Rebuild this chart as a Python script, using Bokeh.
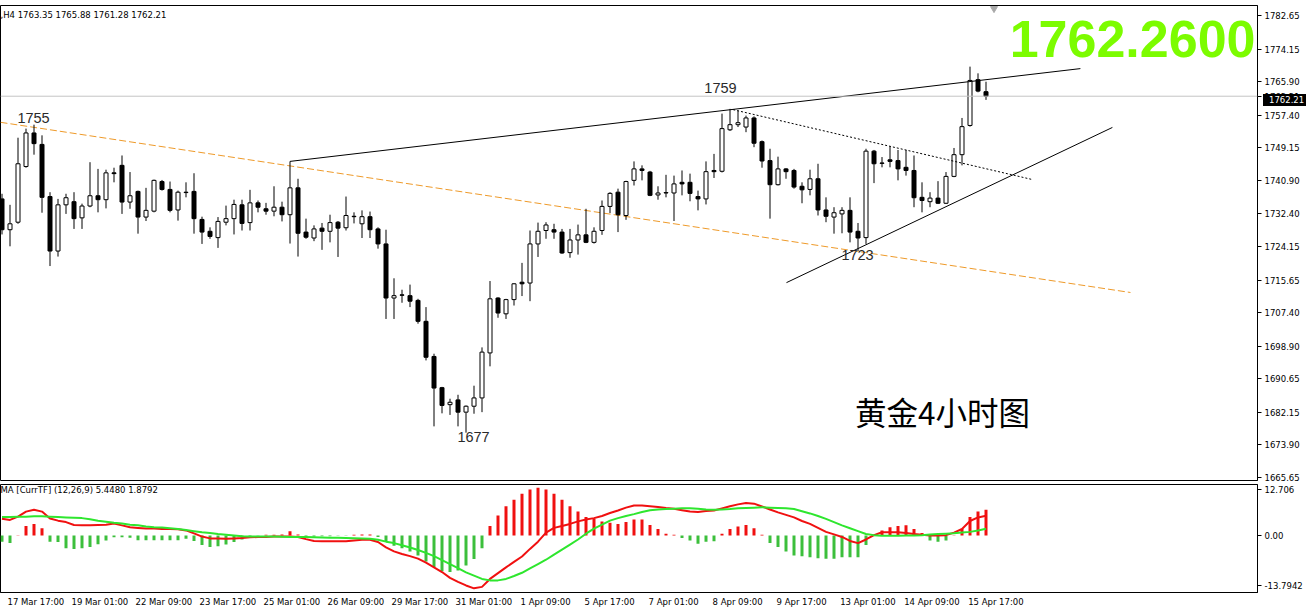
from bokeh.plotting import figure
from bokeh.models import (ColumnDataSource, Range1d, FixedTicker, Label, Span, Div,
                          PrintfTickFormatter, CustomJSTickFormatter)
from bokeh.layouts import column
from bokeh.embed import file_html
from bokeh.resources import INLINE

# ---------------- data ----------------
opens = [1736.2, 1728.4, 1730.3, 1744.4, 1752.9, 1750.0, 1736.8, 1723.0, 1734.7, 1735.5,
         1731.4, 1734.4, 1737.0, 1736.0, 1742.8, 1744.7, 1735.4, 1738.1, 1731.6, 1733.1,
         1740.6, 1738.6, 1733.4, 1737.9, 1738.1, 1731.0, 1728.0, 1726.4, 1730.3, 1731.2,
         1734.7, 1730.2, 1735.2, 1733.7, 1733.1, 1734.1, 1732.2, 1739.0, 1727.8, 1726.3,
         1728.8, 1728.0, 1730.3, 1728.9, 1731.8, 1729.9, 1731.7, 1728.6, 1724.8, 1711.1,
         1711.9, 1711.7, 1710.5, 1705.2, 1696.3, 1688.4, 1684.1, 1685.3, 1682.2, 1683.7,
         1685.8, 1697.2, 1711.1, 1707.1, 1710.7, 1715.1, 1714.9, 1724.8, 1728.2, 1728.4,
         1727.8, 1722.6, 1725.8, 1727.1, 1725.2, 1728.2, 1734.3, 1737.9, 1732.0, 1740.9,
         1743.8, 1743.0, 1737.2, 1737.7, 1737.7, 1740.4, 1740.4, 1736.8, 1736.2, 1743.4,
         1743.2, 1753.7, 1755.0, 1754.4, 1756.7, 1750.7, 1745.9, 1739.8, 1743.8, 1743.4,
         1739.4, 1738.6, 1741.3, 1733.4, 1731.6, 1732.4, 1733.3, 1728.0, 1726.4, 1748.3,
         1745.3, 1746.1, 1745.9, 1744.2, 1743.4, 1736.6, 1735.5, 1736.4, 1735.1, 1741.9,
         1747.4, 1754.8, 1766.4, 1763.35]
highs = [1737.5, 1734.7, 1751.7, 1754.0, 1755.0, 1752.3, 1737.9, 1736.2, 1737.5, 1737.9,
         1735.0, 1745.5, 1743.8, 1743.6, 1744.1, 1747.2, 1743.0, 1738.3, 1739.0, 1741.1,
         1741.0, 1740.6, 1738.3, 1740.4, 1742.7, 1731.7, 1729.0, 1731.6, 1734.5, 1736.0,
         1736.0, 1738.5, 1735.8, 1735.2, 1739.4, 1735.5, 1745.7, 1741.3, 1731.2, 1729.5,
         1730.1, 1732.2, 1730.6, 1736.8, 1732.8, 1733.3, 1733.0, 1729.0, 1728.4, 1716.1,
         1713.2, 1714.5, 1710.9, 1708.8, 1697.0, 1688.6, 1685.6, 1686.6, 1683.9, 1688.9,
         1698.6, 1715.4, 1711.3, 1710.9, 1714.9, 1720.0, 1728.2, 1730.2, 1730.3, 1729.9,
         1728.6, 1728.6, 1729.7, 1733.7, 1729.0, 1735.8, 1737.9, 1738.8, 1740.8, 1745.7,
         1744.7, 1743.3, 1739.4, 1742.3, 1742.1, 1743.4, 1742.6, 1738.3, 1745.7, 1747.6,
         1757.8, 1759.0, 1758.6, 1757.3, 1757.1, 1751.0, 1748.9, 1746.9, 1744.0, 1743.8,
         1740.4, 1743.6, 1745.1, 1736.6, 1734.1, 1734.1, 1736.6, 1730.1, 1748.9, 1748.6,
         1746.8, 1749.5, 1748.6, 1748.6, 1747.2, 1740.4, 1737.9, 1740.7, 1743.0, 1749.1,
         1756.7, 1769.7, 1768.0, 1765.88]
lows = [1727.2, 1724.2, 1729.9, 1744.1, 1747.4, 1732.7, 1719.2, 1721.6, 1732.4, 1728.6,
        1728.6, 1734.1, 1732.8, 1733.8, 1740.4, 1732.4, 1733.7, 1727.4, 1730.6, 1732.8,
        1738.3, 1732.8, 1730.7, 1736.6, 1727.4, 1724.8, 1726.1, 1723.8, 1729.5, 1727.2,
        1728.2, 1728.2, 1732.8, 1732.2, 1731.8, 1730.5, 1724.9, 1721.6, 1726.1, 1725.5,
        1723.3, 1725.2, 1721.5, 1728.2, 1730.0, 1726.3, 1726.3, 1723.6, 1705.8, 1705.8,
        1709.9, 1708.8, 1704.6, 1695.3, 1678.6, 1681.9, 1681.5, 1678.6, 1677.0, 1681.8,
        1682.2, 1693.8, 1706.1, 1705.8, 1709.2, 1711.6, 1710.3, 1721.5, 1726.1, 1726.1,
        1722.3, 1721.3, 1722.1, 1725.0, 1724.9, 1727.1, 1732.6, 1727.8, 1730.9, 1739.6,
        1740.9, 1736.9, 1736.0, 1736.6, 1730.6, 1737.1, 1735.6, 1733.3, 1734.8, 1741.5,
        1742.9, 1753.4, 1754.4, 1753.1, 1749.3, 1744.1, 1731.2, 1739.6, 1741.3, 1738.8,
        1735.1, 1737.1, 1732.0, 1730.3, 1727.4, 1727.5, 1725.2, 1723.0, 1724.8, 1740.2,
        1744.2, 1744.2, 1740.9, 1742.1, 1734.1, 1732.8, 1734.1, 1734.9, 1734.9, 1741.7,
        1744.7, 1754.5, 1763.2, 1761.28]
closes = [1728.4, 1729.9, 1745.1, 1752.9, 1750.2, 1736.6, 1723.0, 1734.7, 1736.5, 1731.2,
          1734.4, 1737.0, 1736.0, 1742.8, 1742.6, 1735.4, 1737.0, 1731.6, 1733.3, 1740.9,
          1738.6, 1733.3, 1737.9, 1737.8, 1731.2, 1727.8, 1726.7, 1730.5, 1731.2, 1734.8,
          1730.0, 1735.2, 1734.1, 1733.1, 1734.1, 1732.2, 1739.0, 1727.5, 1726.5, 1728.6,
          1728.0, 1730.2, 1728.8, 1732.0, 1731.7, 1731.7, 1728.4, 1724.8, 1711.1, 1711.7,
          1711.8, 1710.3, 1705.2, 1696.1, 1688.3, 1683.9, 1684.7, 1682.2, 1683.7, 1685.8,
          1697.4, 1710.9, 1707.3, 1710.7, 1714.7, 1714.7, 1724.8, 1728.0, 1729.6, 1727.8,
          1722.5, 1725.8, 1727.1, 1725.2, 1728.0, 1734.3, 1737.6, 1732.2, 1740.6, 1743.8,
          1743.4, 1737.1, 1737.7, 1737.8, 1740.0, 1740.0, 1737.6, 1736.2, 1743.1, 1743.1,
          1754.0, 1755.0, 1755.5, 1756.7, 1750.3, 1745.8, 1739.8, 1743.8, 1743.1, 1739.2,
          1738.5, 1741.3, 1733.4, 1731.8, 1732.7, 1733.3, 1727.8, 1726.3, 1748.3, 1745.1,
          1745.2, 1745.7, 1743.8, 1743.4, 1736.5, 1735.8, 1736.4, 1735.1, 1741.9, 1747.4,
          1754.5, 1766.2, 1763.5, 1762.21]

macd_line = [4.6, 4.3, 5.2, 6.6, 7.1, 6.6, 4.7, 4.1, 3.7, 2.9,
             2.8, 2.8, 2.9, 3.0, 3.3, 2.8, 2.3, 2.1, 1.9, 1.9,
             1.8, 1.8, 1.7, 1.4, 0.6, -0.3, -0.8, -0.8, -0.9, -0.8,
             -0.7, -0.5, -0.4, -0.4, -0.3, -0.3, -0.3, -0.4, -1.0, -1.5,
             -1.6, -1.6, -1.6, -1.6, -1.4, -1.2, -1.2, -1.8, -3.3, -4.4,
             -5.1, -5.7, -6.4, -7.5, -8.8, -10.1, -11.7, -12.8, -13.8, -14.6,
             -14.2, -12.0, -10.4, -8.8, -7.3, -5.8, -3.7, -1.7, 0.8, 2.1,
             2.6, 3.2, 3.9, 4.4, 4.8, 5.4, 6.2, 6.9, 7.7, 8.3,
             8.3, 8.1, 7.9, 7.6, 7.4, 7.0, 6.6, 6.5, 6.8, 6.9,
             7.5, 8.1, 8.6, 9.0, 8.8, 8.0, 7.2, 6.4, 5.7, 5.0,
             4.0, 3.2, 2.1, 1.0, 0.3, -0.4, -1.5, -2.1, -1.1, 0.1,
             0.9, 0.9, 0.9, 0.7, 0.4, 0.2, 0.0, 0.0, 0.1, 0.8,
             1.8, 4.0, 5.0, 5.448]
signal_line = [5.1, 5.1, 5.2, 5.2, 5.3, 5.3, 5.2, 5.1, 5.0, 4.9,
               4.8, 4.5, 4.1, 3.8, 3.5, 3.3, 3.0, 2.8, 2.5, 2.3,
               2.2, 2.0, 1.8, 1.5, 1.2, 0.9, 0.7, 0.4, 0.2, 0.0,
               -0.2, -0.3, -0.3, -0.3, -0.3, -0.35, -0.4, -0.4, -0.45, -0.5,
               -0.55, -0.6, -0.65, -0.7, -0.75, -0.8, -0.9, -1.2, -1.7, -2.1,
               -2.7, -3.3, -4.0, -4.8, -5.7, -6.8, -7.9, -9.0, -10.2, -11.1,
               -12.0, -12.4, -12.4, -12.0, -11.2, -10.3, -9.1, -7.9, -6.7, -5.3,
               -3.9, -2.5, -1.1, 0.5, 1.9, 3.0, 4.1, 4.8, 5.4, 5.9,
               6.5, 7.0, 7.2, 7.3, 7.4, 7.5, 7.5, 7.4, 7.2, 7.1,
               7.2, 7.3, 7.5, 7.6, 7.7, 7.8, 7.7, 7.6, 7.5, 7.3,
               6.7, 6.1, 5.4, 4.6, 3.7, 2.8, 2.0, 1.2, 0.4, 0.1,
               -0.1, -0.1, -0.1, 0.0, 0.0, 0.1, 0.3, 0.4, 0.5, 0.6,
               0.8, 1.0, 1.4, 1.8792]
macd_hist = [-1.7, -2.1, 0.1, 2.6, 3.2, 2.0, -1.7, -1.8, -3.5, -3.7,
             -3.5, -3.2, -2.4, -1.4, -0.5, -0.5, -0.6, -1.3, -1.3, -1.3,
             -1.3, -1.3, -1.3, -0.9, -1.5, -2.6, -3.2, -3.0, -2.5, -1.8,
             -1.1, -0.5, -0.1, 0.2, 0.2, 0.3, 1.2, 0.3, -0.2, -0.3,
             -0.2, -0.2, -0.1, -0.1, 0.2, 0.3, 0.3, -0.4, -1.8, -2.8,
             -3.5, -4.4, -5.5, -7.2, -8.7, -9.9, -10.1, -9.7, -8.3, -6.5,
             -3.5, 2.6, 5.5, 8.1, 9.9, 11.5, 12.7, 13.2, 12.7, 11.5,
             9.9, 8.1, 6.6, 5.1, 4.6, 3.9, 3.5, 3.2, 3.7, 4.4,
             4.4, 2.9, 1.8, 0.5, 0.2, -0.7, -1.4, -2.3, -1.7, -1.6,
             0.5, 1.8, 2.5, 2.9, 2.0, 0.2, -2.1, -3.2, -4.4, -5.5,
             -5.7, -6.0, -6.3, -6.4, -6.4, -6.0, -6.0, -6.0, -2.6, 0.0,
             1.4, 2.3, 2.6, 2.8, 1.8, 0.7, -1.4, -1.7, -1.4, 0.1,
             1.8, 5.1, 6.6, 7.14]

price_ticks = [1665.65, 1673.90, 1682.15, 1690.65, 1698.90, 1707.40, 1715.65, 1724.15,
               1732.40, 1740.90, 1749.15, 1757.40, 1765.90, 1774.15, 1782.65]
macd_ticks = [-13.7942, 0.0, 12.706]
macd_tick_labels = ["-13.7942", "0.00", "12.706"]

time_labels = ["17 Mar 17:00", "19 Mar 01:00", "22 Mar 09:00", "23 Mar 17:00",
               "25 Mar 01:00", "26 Mar 09:00", "29 Mar 17:00", "31 Mar 01:00",
               "1 Apr 09:00", "5 Apr 17:00", "7 Apr 01:00", "8 Apr 09:00",
               "9 Apr 17:00", "13 Apr 01:00", "14 Apr 09:00", "15 Apr 17:00"]
time_label_bars = [1, 9, 17, 25, 33, 41, 49, 57, 65, 73, 81, 89, 97, 105, 113, 121]

# trend lines drawn on the chart (bar index, price)
resist_x, resist_y = [36, 134.8], [1745.7, 1769.2]
dotted_x, dotted_y = [91.4, 128.8], [1758.8, 1741.1]
support_x, support_y = [98.06, 138.8], [1715.0, 1754.3]
orange_x, orange_y = [-0.19, 141.06], [1755.6, 1712.5]

note_text = ["1755", "1759", "1723", "1677"]
note_x = [3.94, 89.81, 106.94, 58.94]
note_y = [1756.8, 1764.4, 1721.9, 1675.8]

symbol_header = ",H4  1763.35 1765.88 1761.28 1762.21"
macd_header = "MA [CurrTF] (12,26,9) 5.4480 1.8792"
big_price = "1762.2600"
chart_title = "黄金4小时图"
bid_price = 1762.21
bid_text = "1762.21"

n = len(closes)
for arr in (opens, highs, lows, macd_line, signal_line, macd_hist):
    assert len(arr) == n

# ---------------- layout constants ----------------
W = 1306
PX = 8.0               # pixels per bar
FRAME_W = 1257
X0 = -1.5 / PX
x_range = Range1d(X0, X0 + FRAME_W / PX)
AX_FONT = "DejaVu Sans"
AX_SIZE = "8.5px"

idx = list(range(n))
bull = [c >= o for o, c in zip(opens, closes)]
src_all = ColumnDataSource(dict(x=idx, high=highs, low=lows))
src_bull = ColumnDataSource(dict(
    x=[i for i in idx if bull[i]],
    top=[closes[i] for i in idx if bull[i]],
    bottom=[opens[i] for i in idx if bull[i]]))
src_bear = ColumnDataSource(dict(
    x=[i for i in idx if not bull[i]],
    top=[opens[i] for i in idx if not bull[i]],
    bottom=[closes[i] for i in idx if not bull[i]]))

# ---------------- main price pane ----------------
p1 = figure(width=W, height=484, x_range=x_range, y_range=Range1d(1664.89, 1785.18),
            x_axis_location=None, y_axis_location="right",
            output_backend="svg", toolbar_location=None,
            min_border_left=0, min_border_right=49, min_border_top=5, min_border_bottom=4,
            outline_line_color="black", background_fill_color="white",
            border_fill_color="white")
p1.grid.visible = False
ya = p1.yaxis[0]
ya.ticker = FixedTicker(ticks=price_ticks + [bid_price])
ya.formatter = PrintfTickFormatter(format="%.2f")
ya.major_tick_in = 0
ya.major_tick_out = 4
ya.minor_tick_line_color = None
ya.major_label_standoff = 3
ya.major_label_text_font = AX_FONT
ya.major_label_text_font_size = AX_SIZE
ya.major_label_text_color = "black"
ya.axis_line_color = "black"

p1.add_layout(Span(location=bid_price, dimension="width", line_color="#C4C4C4", line_width=1))

p1.line(orange_x, orange_y, line_color="#EE9A2A", line_dash="7 3", line_width=1)

p1.segment(x0="x", y0="low", x1="x", y1="high", source=src_all, line_color="black", line_width=1)
p1.vbar(x="x", top="top", bottom="bottom", width=0.5, source=src_bull,
        fill_color="white", line_color="black", line_width=1)
p1.vbar(x="x", top="top", bottom="bottom", width=0.5, source=src_bear,
        fill_color="black", line_color="black", line_width=1)

p1.line(resist_x, resist_y, line_color="black", line_width=1)
p1.line(dotted_x, dotted_y, line_color="black", line_width=1, line_dash="2 2")
p1.line(support_x, support_y, line_color="black", line_width=1)

for t, x, y in zip(note_text, note_x, note_y):
    p1.add_layout(Label(x=x, y=y, text=t, text_align="center", text_baseline="middle",
                        text_font="Liberation Sans", text_font_size="14.5px",
                        text_color="#2a2a2a"))

p1.add_layout(Label(x=117.56, y=1682.6, text=chart_title, text_align="center",
                    text_baseline="middle", text_font="Noto Sans CJK SC",
                    text_font_size="31.5px", text_color="black"))

p1.add_layout(Label(x=x_range.end - 0.25, y=1776.8, text=big_price, text_align="right",
                    text_baseline="middle", text_font="Liberation Sans",
                    text_font_style="bold", text_font_size="52px", text_color="#7CFC00"))

p1.add_layout(Label(x=X0, y=1782.9, text=symbol_header, text_align="left",
                    text_baseline="middle", text_font=AX_FONT, text_font_size=AX_SIZE,
                    text_color="black"))

p1.scatter(x=[n], y=[1784.4], marker="inverted_triangle", size=7,
           fill_color="#A8A8A8", line_color="#A8A8A8")

# ---------------- MACD pane ----------------
p2 = figure(width=W, height=126, x_range=x_range, y_range=Range1d(-15.75, 14.09),
            x_axis_location="below", y_axis_location="right",
            output_backend="svg", toolbar_location=None,
            min_border_left=0, min_border_right=49, min_border_top=0, min_border_bottom=18,
            outline_line_color="black", background_fill_color="white",
            border_fill_color="white")
p2.grid.visible = False

hist_colors = ["#F01010" if v >= 0 else "#3CBF3C" for v in macd_hist]
p2.vbar(x=idx, top=macd_hist, bottom=0, width=0.375, fill_color=hist_colors,
        line_color=None)
p2.line(idx, macd_line, line_color="#F01010", line_width=2)
p2.line(idx, signal_line, line_color="#2EE62E", line_width=2)

p2.add_layout(Label(x=X0, y=12.5, text=macd_header, text_align="left",
                    text_baseline="middle", text_font=AX_FONT, text_font_size=AX_SIZE,
                    text_color="black"))

ya2 = p2.yaxis[0]
ya2.ticker = FixedTicker(ticks=macd_ticks)
ya2.formatter = CustomJSTickFormatter(args=dict(vals=macd_ticks, labs=macd_tick_labels), code="""
    for (let i = 0; i < vals.length; i++) { if (Math.abs(vals[i] - tick) < 1e-6) return labs[i]; }
    return '';
""")
ya2.major_tick_in = 0
ya2.major_tick_out = 4
ya2.minor_tick_line_color = None
ya2.major_label_standoff = 3
ya2.major_label_text_font = AX_FONT
ya2.major_label_text_font_size = AX_SIZE
ya2.major_label_text_color = "black"
ya2.axis_line_color = "black"

# time labels: MT4 writes the text starting just left of the bar
char_w = 4.6
tick_pos = [b + (-1.7 + len(t) * char_w / 2) / PX for b, t in zip(time_label_bars, time_labels)]
xa = p2.xaxis[0]
xa.ticker = FixedTicker(ticks=tick_pos)
xa.formatter = CustomJSTickFormatter(args=dict(pos=tick_pos, labs=time_labels), code="""
    for (let i = 0; i < pos.length; i++) { if (Math.abs(pos[i] - tick) < 1e-6) return labs[i]; }
    return '';
""")
xa.major_tick_in = 0
xa.major_tick_out = 0
xa.major_tick_line_color = None
xa.minor_tick_in = 0
xa.minor_tick_out = 0
xa.minor_tick_line_color = None
xa.major_label_standoff = 4
xa.major_label_text_font = AX_FONT
xa.major_label_text_font_size = AX_SIZE
xa.major_label_text_color = "black"
xa.axis_line_color = "black"

# black "current price" box drawn over the price scale, as MT4 does
bid_box = Div(text=bid_text, width=43, height=12,
              styles={"position": "absolute", "left": "1258px", "top": "89px",
                      "background-color": "black", "color": "white",
                      "font-family": "DejaVu Sans", "font-size": "8.5px",
                      "line-height": "12px", "padding-left": "6px",
                      "box-sizing": "border-box", "z-index": "10"})

layout = column(p1, p2, bid_box, spacing=0)
open("out.html", "w").write(file_html(layout, INLINE))
